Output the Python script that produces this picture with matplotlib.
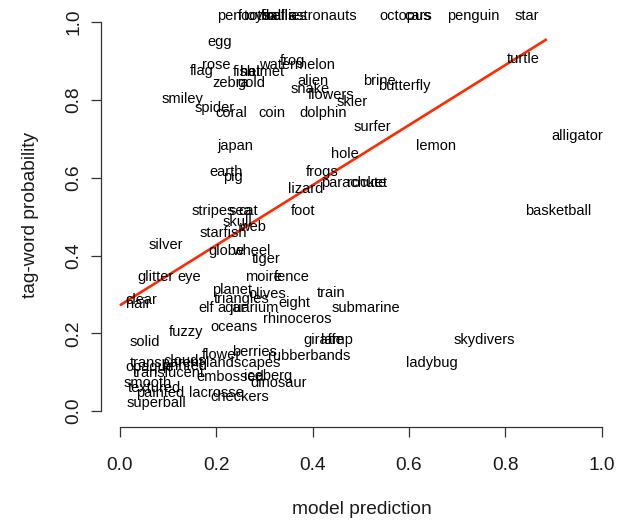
# tag-word probability vs model prediction, words plotted as text labels

import matplotlib
matplotlib.use('Agg')
import matplotlib.pyplot as plt

plt.rcParams['font.family'] = ['Liberation Sans', 'DejaVu Sans']

words = ['pen', 'football', 'toys', 'balls', 'fireflies', 'astronauts', 'octopus', 'cars',
         'penguin', 'star', 'egg', 'turtle', 'rose', 'flag', 'zebra', 'gold', 'fish', 'hat',
         'helmet', 'watermelon', 'frog', 'alien', 'snake', 'flowers', 'skier', 'brine',
         'butterfly', 'smiley', 'spider', 'coral', 'coin', 'dolphin', 'surfer', 'alligator',
         'lemon', 'japan', 'hole', 'earth', 'pig', 'frogs', 'parachute', 'rocket', 'lizard',
         'stripes', 'sea', 'cat', 'foot', 'basketball', 'skull', 'web', 'starfish', 'silver',
         'globe', 'wheel', 'tiger', 'glitter', 'eye', 'moire', 'fence', 'planet', 'olives',
         'train', 'triangles', 'eight', 'clear', 'hair', 'elf', 'jar', 'aquarium', 'submarine',
         'rhinoceros', 'oceans', 'fuzzy', 'solid', 'giraffe', 'lamp', 'skydivers',
         'rubberbands', 'ladybug', 'flower', 'berries', 'transparent', 'clouds', 'landscapes',
         'opaque', 'printed', 'translucent', 'embossed', 'iceberg', 'dinosaur', 'smooth',
         'textured', 'painted', 'lacrosse', 'checkers', 'superball']

prediction = [0.226, 0.295, 0.286, 0.332, 0.342, 0.421, 0.591, 0.620,
              0.734, 0.844, 0.207, 0.838, 0.199, 0.170, 0.230, 0.272, 0.259, 0.270,
              0.295, 0.367, 0.359, 0.400, 0.394, 0.438, 0.483, 0.539,
              0.591, 0.131, 0.197, 0.232, 0.315, 0.421, 0.523, 0.950,
              0.656, 0.239, 0.467, 0.220, 0.234, 0.419, 0.485, 0.512, 0.386,
              0.193, 0.251, 0.266, 0.380, 0.909, 0.243, 0.276, 0.214, 0.095,
              0.222, 0.272, 0.303, 0.073, 0.143, 0.297, 0.357, 0.232, 0.305,
              0.438, 0.253, 0.363, 0.044, 0.039, 0.180, 0.245, 0.266, 0.510,
              0.369, 0.237, 0.137, 0.052, 0.423, 0.450, 0.757,
              0.392, 0.647, 0.210, 0.280, 0.098, 0.135, 0.255,
              0.062, 0.135, 0.102, 0.230, 0.307, 0.330, 0.058,
              0.071, 0.083, 0.201, 0.249, 0.075]

probability = [1.015, 1.015, 1.015, 1.015, 1.015, 1.015, 1.015, 1.015,
               1.015, 1.015, 0.949, 0.905, 0.889, 0.874, 0.843, 0.843, 0.871, 0.871,
               0.871, 0.889, 0.900, 0.848, 0.828, 0.812, 0.794, 0.848,
               0.835, 0.802, 0.779, 0.766, 0.766, 0.766, 0.730, 0.707,
               0.681, 0.681, 0.661, 0.614, 0.602, 0.614, 0.586, 0.586, 0.571,
               0.514, 0.514, 0.514, 0.514, 0.514, 0.486, 0.473, 0.458, 0.427,
               0.411, 0.411, 0.391, 0.344, 0.344, 0.344, 0.344, 0.311, 0.301,
               0.303, 0.288, 0.278, 0.285, 0.275, 0.265, 0.265, 0.265, 0.265,
               0.237, 0.216, 0.203, 0.177, 0.183, 0.183, 0.183,
               0.141, 0.123, 0.144, 0.152, 0.123, 0.129, 0.123,
               0.113, 0.116, 0.098, 0.087, 0.090, 0.072, 0.072,
               0.059, 0.046, 0.046, 0.036, 0.021]

fit_x = [0.0, 0.886]
fit_y = [0.272, 0.956]

fig = plt.figure(figsize=(6.21, 5.21), dpi=100)
ax = fig.add_axes([0.162, 0.181, 0.838, 0.8065])  # [left, bottom, width, height]

for w, x, y in zip(words, prediction, probability):
    ax.text(x, y, w, ha='center', va='center', fontsize=10.5, color='black')

ax.plot(fit_x, fit_y, color='#ff2a00', lw=1.9, solid_capstyle='butt')

ax.set_xlim(-0.04, 1.04)
ax.set_ylim(-0.04, 1.04)
ax.set_xticks([0.0, 0.2, 0.4, 0.6, 0.8, 1.0])
ax.set_yticks([0.0, 0.2, 0.4, 0.6, 0.8, 1.0])
ax.set_xticklabels(['0.0', '0.2', '0.4', '0.6', '0.8', '1.0'])
ax.set_yticklabels(['0.0', '0.2', '0.4', '0.6', '0.8', '1.0'], rotation=90, va='center')
for s in ['top', 'right']:
    ax.spines[s].set_visible(False)
ax.spines['left'].set_bounds(0, 1)
ax.spines['bottom'].set_bounds(0, 1)
for s in ['left', 'bottom']:
    ax.spines[s].set_color('#333333')
    ax.spines[s].set_linewidth(0.9)
ax.tick_params(axis='both', length=7, width=0.9, color='#333333', labelsize=13.8, labelcolor='#1a1a1a')
ax.tick_params(axis='x', pad=15)
ax.tick_params(axis='y', pad=6)

fig.text(362/621, 1 - 510/521, 'model prediction', ha='center', va='center', fontsize=13.8, color='#1a1a1a')
fig.text(31/621, 1 - 215/521, 'tag-word probability', ha='center', va='center', rotation=90,
         fontsize=13.8, color='#1a1a1a')

fig.savefig('out.png', dpi=100)
